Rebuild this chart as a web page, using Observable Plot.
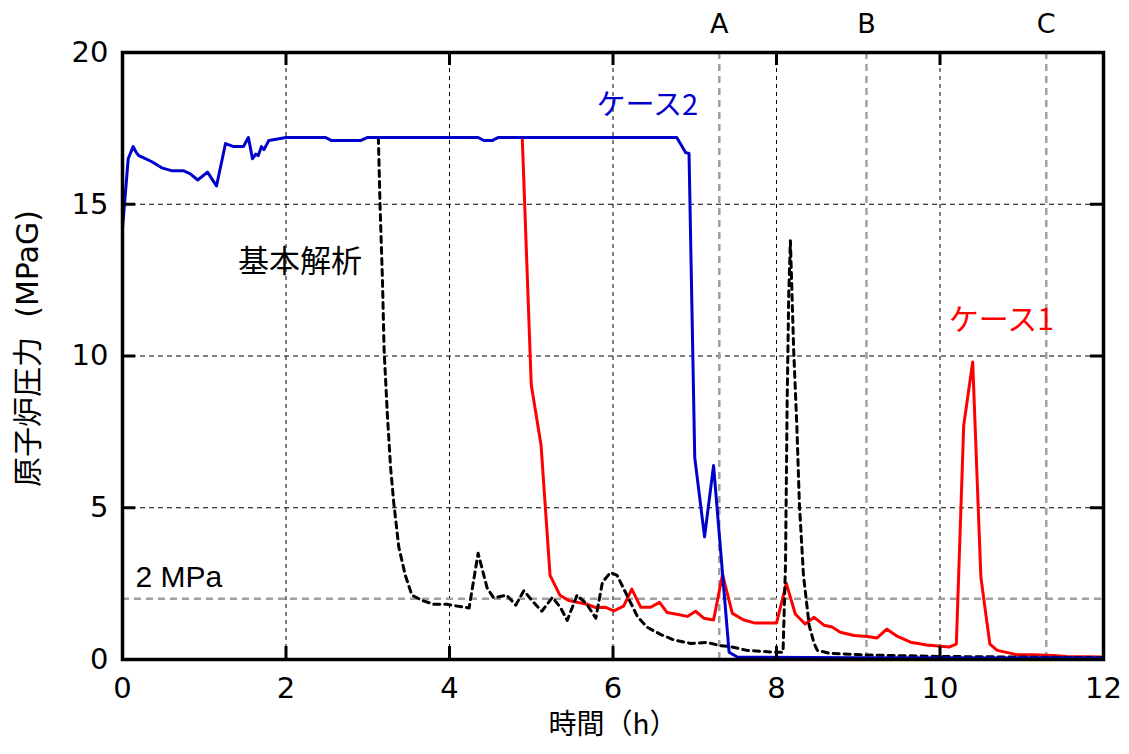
<!DOCTYPE html>
<html><head><meta charset="utf-8">
<script src="https://cdn.jsdelivr.net/npm/d3@7"></script>
<script src="https://cdn.jsdelivr.net/npm/@observablehq/plot@0.6"></script>
<style>body{margin:0;background:#fff}</style>
</head><body><div id="chart"></div>
<script>
// ケース2 (blue)
const case2Time = [0,0.07,0.13,0.17,0.2,0.24,0.36,0.48,0.61,0.75,0.83,0.92,1.04,1.15,1.26,1.36,1.48,1.54,1.59,1.63,1.66,1.70,1.73,1.79,2.0,2.48,2.56,2.91,3.0,4.35,4.42,4.52,4.6,6.78,6.89,6.93,7.0,7.12,7.23,7.42,7.52,9.0,12];
const case2P    = [14.2,16.5,16.9,16.7,16.6,16.55,16.4,16.2,16.1,16.1,16.0,15.8,16.06,15.6,17.0,16.9,16.9,17.2,16.5,16.65,16.6,16.9,16.8,17.1,17.2,17.2,17.1,17.1,17.2,17.2,17.1,17.1,17.2,17.2,16.7,16.67,6.65,4.04,6.39,0.24,0.08,0.06,0.05];
// ケース1 (red)
const case1Time = [4.89,5.0,5.12,5.23,5.35,5.46,5.68,5.79,5.91,6.01,6.13,6.23,6.34,6.46,6.57,6.66,6.78,6.91,7.01,7.11,7.23,7.34,7.46,7.60,7.74,8.0,8.12,8.23,8.35,8.46,8.58,8.68,8.78,8.95,9.11,9.23,9.35,9.48,9.64,9.84,10.01,10.11,10.2,10.29,10.40,10.50,10.61,10.70,10.94,11.15,11.39,11.55,12];
const case1P    = [17.2,9.05,7.06,2.77,2.12,1.94,1.82,1.71,1.72,1.6,1.76,2.32,1.72,1.72,1.88,1.55,1.49,1.42,1.59,1.36,1.30,2.80,1.52,1.30,1.20,1.20,2.51,1.50,1.17,1.39,1.13,1.07,0.90,0.79,0.76,0.71,1.0,0.76,0.57,0.48,0.44,0.41,0.51,7.71,9.80,2.71,0.51,0.30,0.16,0.16,0.13,0.10,0.08];
// 基本解析 (black dashed)
const baseTime = [3.13,3.15,3.18,3.20,3.24,3.28,3.32,3.38,3.46,3.54,3.67,3.81,3.97,4.09,4.24,4.35,4.46,4.54,4.70,4.81,4.91,5.01,5.13,5.26,5.36,5.44,5.56,5.68,5.79,5.87,5.97,6.05,6.17,6.30,6.42,6.58,6.74,6.95,7.15,7.31,7.44,7.64,7.97,8.08,8.11,8.13,8.15,8.17,8.21,8.25,8.28,8.33,8.40,8.46,8.5,8.66,9.07,10,12];
const baseP    = [17.2,15.0,12.5,10.2,8.06,6.3,5.12,3.7,2.77,2.12,1.94,1.82,1.82,1.76,1.7,3.5,2.36,2.03,2.12,1.79,2.27,1.94,1.59,2.05,1.7,1.29,2.12,1.82,1.36,2.54,2.87,2.77,2.12,1.41,1.06,0.83,0.65,0.53,0.56,0.46,0.42,0.30,0.24,0.24,3.13,8.4,12.07,13.8,10.2,7.6,5.12,2.77,1.12,0.53,0.3,0.2,0.15,0.1,0.06];

const xTicks = [0,2,4,6,8,10,12];
const yTicks = [0,5,10,15,20];
const gridX = [2,4,6,8,10];
const gridY = [5,10,15];
const markerTimes = [7.3, 9.1, 11.3];
const markerLabels = ["A","B","C"];
const refPressure = [2];
const seriesLabels = ["ケース2","ケース1","基本解析"];
const seriesLabelX = [6.42, 10.75, 2.17];
const seriesLabelY = [18.25, 11.17, 13.1];
const seriesLabelSize = [29, 30, 31];
const seriesColors = ["#0000cc","#ff0000","#000000"];
const xTitle = "時間（h）";
const yTitleMain = "原子炉圧力";
const yTitleUnit = "(MPaG)";
const refLabel = "2 MPa";

const rows = (xs, ys) => xs.map((x, i) => ({x, y: ys[i]}));
const markers = markerTimes.map((t, i) => ({t, label: markerLabels[i]}));
const seriesText = seriesLabels.map((s, i) => ({s, x: seriesLabelX[i], y: seriesLabelY[i], c: seriesColors[i], f: seriesLabelSize[i]}));

const cjk = "'Noto Sans CJK JP', sans-serif";
const latin = "'DejaVu Sans', sans-serif";
const chart = Plot.plot({
  width: 1129, height: 754,
  marginLeft: 122, marginRight: 26, marginTop: 52, marginBottom: 95,
  x: {domain: [0, 12]},
  y: {domain: [0, 20]},
  style: {fontFamily: latin, fontSize: "29px", color: "black", background: "white"},
  marks: [
    Plot.ruleX(gridX, {stroke: "black", strokeWidth: 1, strokeDasharray: "4,4"}),
    Plot.ruleY(gridY, {stroke: "black", strokeWidth: 1, strokeDasharray: "5,4"}),
    Plot.ruleX(markerTimes, {stroke: "#a0a0a0", strokeWidth: 2.5, strokeDasharray: "7,5"}),
    Plot.ruleY(refPressure, {stroke: "#a0a0a0", strokeWidth: 2.5, strokeDasharray: "7,5"}),
    Plot.line(rows(case1Time, case1P), {x: "x", y: "y", stroke: seriesColors[1], strokeWidth: 3}),
    Plot.line(rows(baseTime, baseP), {x: "x", y: "y", stroke: "black", strokeWidth: 3, strokeDasharray: "6,5"}),
    Plot.line(rows(case2Time, case2P), {x: "x", y: "y", stroke: seriesColors[0], strokeWidth: 3}),
    Plot.frame({stroke: "black", strokeWidth: 3.5}),
    Plot.ruleX(gridX, {y1: 0, y2: 0.43, stroke: "black", strokeWidth: 3}),
    Plot.ruleX(gridX, {y1: 20, y2: 19.57, stroke: "black", strokeWidth: 3}),
    Plot.ruleY(gridY, {x1: 0, x2: 0.16, stroke: "black", strokeWidth: 3}),
    Plot.ruleY(gridY, {x1: 12, x2: 11.84, stroke: "black", strokeWidth: 3}),
    Plot.axisX({ticks: xTicks, tickSize: 0, tickPadding: 18, label: null, fontSize: 29}),
    Plot.axisY({ticks: yTicks, tickSize: 0, tickPadding: 14, label: null, fontSize: 29}),
    Plot.text(markers, {x: "t", text: "label", frameAnchor: "top", lineAnchor: "middle", dy: -28, fontSize: 27, fill: "black"}),
    Plot.text(seriesText, {x: "x", y: "y", text: "s", fill: "c", fontSize: "f", fontFamily: cjk}),
    Plot.text([refLabel], {x: 0, y: 2.7, text: d => d, dx: 13, textAnchor: "start", fontSize: 30, fontFamily: "'Liberation Sans', sans-serif"}),
    Plot.text([xTitle], {frameAnchor: "bottom", lineAnchor: "middle", textAnchor: "middle", text: d => d, dy: 66, fontSize: 28, fontFamily: cjk}),
    Plot.text([yTitleMain], {frameAnchor: "left", lineAnchor: "middle", textAnchor: "middle", text: d => d, rotate: -90, dx: -94, dy: 56, fontSize: 30, fontFamily: cjk}),
    Plot.text([yTitleUnit], {frameAnchor: "left", lineAnchor: "middle", textAnchor: "middle", text: d => d, rotate: -90, dx: -94, dy: -92, fontSize: 30, fontFamily: latin})
  ]
});
document.getElementById("chart").append(chart);
</script>
</body></html>
